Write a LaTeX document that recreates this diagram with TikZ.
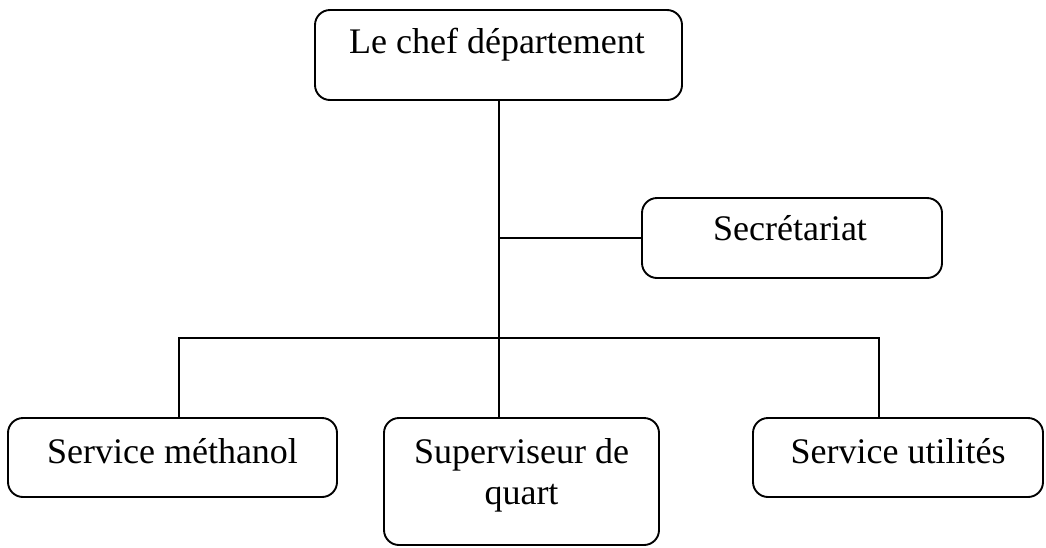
\documentclass[tikz,border=0pt]{standalone}
\usepackage{fontspec}
\setmainfont{Liberation Serif}
\begin{document}
\begin{tikzpicture}[x=1pt,y=-1pt,
  box/.style={draw, line width=1.9pt, rounded corners=15pt, inner sep=0pt},
  lbl/.style={anchor=base, inner sep=0pt, font=\fontsize{36}{41}\selectfont, align=center},
  link/.style={line width=2pt}]
  \useasboundingbox (0,0) rectangle (1046,547);
  % boxes
  \node[box, minimum width=367pt, minimum height=90pt]  (chef) at (498.5,55) {};
  \node[box, minimum width=300pt, minimum height=80pt]  (secr) at (792,238) {};
  \node[box, minimum width=329pt, minimum height=79pt]  (meth) at (172.5,457.5) {};
  \node[box, minimum width=275pt, minimum height=127pt] (sup)  at (521.5,481.5) {};
  \node[box, minimum width=290pt, minimum height=79pt]  (util) at (898,457.5) {};
  % labels (base of a two-line label is its last line)
  \node[lbl] (tchef) at (497,53) {Le chef département};
  \node[lbl] (tsecr) at (790,240) {Secrétariat};
  \node[lbl] (tmeth) at (172.5,463) {Service méthanol};
  \node[lbl] (tsup)  at (521.5,504) {Superviseur de\\quart};
  \node[lbl] (tutil) at (898,463) {Service utilités};
  % connectors
  \coordinate (barL) at (179,338);
  \coordinate (barR) at (879,338);
  \draw[link] (chef.south) -- (chef.south |- sup.north);
  \draw[link] (chef.south |- secr.west) -- (secr.west);
  \draw[link] (barL |- meth.north) -- (barL) -- (barR) -- (barR |- util.north);
\end{tikzpicture}
\end{document}
